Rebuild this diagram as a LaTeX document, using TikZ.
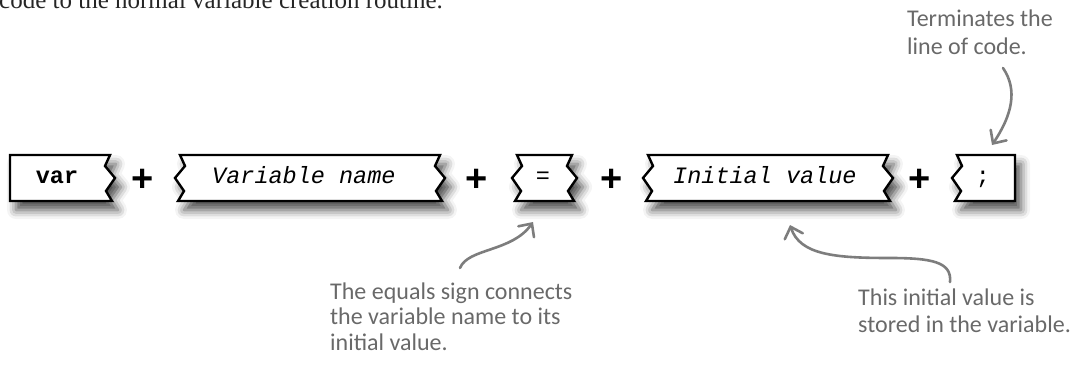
\documentclass[tikz,border=0pt]{standalone}
\usepackage{fontspec}
\setmainfont{Liberation Serif}
\setmonofont{Liberation Mono}
\newfontfamily\handfont{Carlito}
\newfontfamily\plusfont{Liberation Sans}
\usetikzlibrary{arrows.meta,shadows.blur}
\definecolor{anno}{RGB}{105,105,105}
\definecolor{arrowgray}{RGB}{125,125,125}
\tikzset{
  piece/.style={draw=black, line width=2.4pt, fill=white, line join=miter,
    blur shadow={shadow xshift=6pt, shadow yshift=-9pt, shadow blur radius=9pt, shadow opacity=70}},
  codetxt/.style={inner sep=0pt, anchor=base, font=\ttfamily\fontsize{23.5}{28}\selectfont},
  plussign/.style={inner sep=0pt, anchor=base, font=\plusfont\bfseries\fontsize{38}{40}\selectfont},
  note/.style={inner sep=0pt, anchor=base west, align=left, text=anno},
  callout/.style={draw=arrowgray, line width=2.6pt, line cap=round,
    -{Straight Barb[length=10pt, width=19pt, line cap=round]}},
}
\begin{document}
\begin{tikzpicture}[x=1pt,y=-1pt]
\useasboundingbox (0,0) rectangle (1089,372);

% intro text (cut off at the top)
\node[inner sep=0pt, anchor=base west, font=\fontsize{25}{28}\selectfont, text=black!85]
  (intro) at (-1,9) {code to the normal variable creation routine.};

% pieces
\draw[piece] (10,155) -- (110,155) -- ++(-5,11) -- ++(10,12) -- ++(-9,13) -- ++(6,10)
  -- (10,201) -- cycle;
\draw[piece] (180,155) -- (440,155) -- ++(-5,11) -- ++(10,12) -- ++(-9,13) -- ++(6,10)
  -- (178,201) -- ++(6,-10) -- ++(-9,-13) -- ++(10,-12) -- cycle;
\draw[piece] (517,155) -- (572,155) -- ++(-5,11) -- ++(10,12) -- ++(-9,13) -- ++(6,10)
  -- (515,201) -- ++(6,-10) -- ++(-9,-13) -- ++(10,-12) -- cycle;
\draw[piece] (648,155) -- (888,155) -- ++(-5,11) -- ++(10,12) -- ++(-9,13) -- ++(6,10)
  -- (646,201) -- ++(6,-10) -- ++(-9,-13) -- ++(10,-12) -- cycle;
\draw[piece] (957,155) -- (1015,155) -- (1015,201)
  -- (955,201) -- ++(6,-10) -- ++(-9,-13) -- ++(10,-12) -- cycle;

% piece texts
\node[codetxt, font=\ttfamily\bfseries\fontsize{23.5}{28}\selectfont] (kw) at (57,183) {var};
\node[codetxt, anchor=base west, font=\ttfamily\itshape\fontsize{23.5}{28}\selectfont] (vname) at (212,183) {Variable name};
\node[codetxt] (eq) at (543,183) {=};
\node[codetxt, anchor=base west, font=\ttfamily\itshape\fontsize{23.5}{28}\selectfont] (ival) at (673,183) {Initial value};
\node[codetxt] (semi) at (983,183) {;};

% plus signs
\node[plussign] (p1) at (143,191) {+};
\node[plussign] (p2) at (477,191) {+};
\node[plussign] (p3) at (612,191) {+};
\node[plussign] (p4) at (920,191) {+};

% annotations (anchored at the baseline of their last line)
\node[note, font=\handfont\fontsize{24}{25.5}\selectfont] (noteeq) at (330,350)
  {The equals sign connects\\the variable name to its\\initial value.};
\node[note, font=\handfont\fontsize{24}{27}\selectfont] (noteval) at (858,332)
  {This initial value is\\stored in the variable.};
\node[note, font=\handfont\fontsize{24}{28}\selectfont] (noteend) at (907,54)
  {Terminates the\\line of code.};

% callout arrows
\coordinate (eqfrom) at (460,268);
\coordinate (eqto) at (533,222);
\coordinate (valfrom) at (950,282);
\coordinate (valto) at (790,225);
\coordinate (endfrom) at (1003,68);
\coordinate (endto) at (992,145);
\draw[callout] (eqfrom) .. controls (468,248) and (512,252) .. (eqto);
\draw[callout] (valfrom) .. controls (952,262) and (932,258) .. (890,258)
  .. controls (835,258) and (800,255) .. (valto);
\draw[callout] (endfrom) .. controls (1018,90) and (1012,115) .. (endto);
\end{tikzpicture}
\end{document}
